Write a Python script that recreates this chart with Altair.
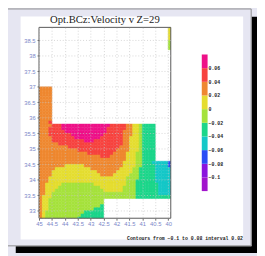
import altair as alt
import pandas as pd

# ---- data ----
# grid columns: 45 -> 40 in 0.125 steps, plus a last sliver 40 -> 39.9
X_EDGES = [45 - 0.125 * k for k in range(41)] + [39.9]
# grid rows: 32.7 -> 39.0 in 0.1 steps
Y_EDGES = [round(32.7 + 0.1 * k, 2) for k in range(64)]
# one run-length string per row, top row (38.9-39.0) first;
# code letter + number of columns (45 -> 39.9); "." = no data
ROWS = [
    ".40 y1", ".40 y1", ".40 y1", ".40 y1", ".40 y1",
    ".40 g1", ".40 g1", ".40 g1",
    ".41", ".41", ".41", ".41", ".41", ".41",
    ".41", ".41", ".41", ".41", ".41", ".41",
    "o4 .37", "o4 .37", "o4 .37", "o4 .37", "o4 .37", "o4 .37",
    "o4 .37", "o4 .37", "o4 .37", "o4 .37", "o4 .37",
    "o3 r1 .37",
    "o4 r3 m15 r5 o2 y2 g1 t4 .5",
    "o3 r4 m14 r6 o2 y2 g1 t4 .5",
    "o3 r5 m13 r5 o3 y2 g1 t4 .5",
    "o3 r7 m10 r6 o3 y2 g1 t4 .5",
    "o4 r7 m8 r7 o2 y3 g1 t4 .5",
    "o4 r10 m3 r9 o2 y3 g1 t4 .5",
    "o6 r20 o2 y3 g1 t4 .5",
    "o9 r16 o3 y3 g1 t4 .5",
    "o12 r12 o4 y3 g1 t4 .5",
    "o15 r8 o4 y3 g2 t4 .5",
    "o19 r3 o5 y3 g2 t4 .5",
    "o27 y3 g2 t4 .5",
    "o26 y4 g2 t3 c5 b1",
    "o8 y6 o12 y4 g2 t4 c4 b1",
    "o5 y11 o9 y4 g2 t5 c5",
    "o4 y14 o6 y5 g2 t5 c5",
    "o4 y15 o4 y5 g3 t5 c5",
    "o3 y24 g4 t5 c5",
    "o3 y24 g3 t6 c5",
    "o2 y5 g10 y10 g3 t7 c4",
    "o2 y4 g13 y7 g4 t7 c4",
    "o2 y3 g15 y6 g4 t7 c4",
    "o2 y2 g26 t7 c4",
    "o1 y3 g26 t11",
    "o1 y2 g17 .21",
    "o1 y2 g17 .21",
    "o1 y2 g16 t1 .21",
    "o1 y2 g14 t3 .21",
    "o1 y1 g12 t6 .21",
    "o1 y1 g11 t7 .21",
    "o1 y1 g10 t8 .21",
]
CODE_VALUE = {"m": 0.07, "r": 0.05, "o": 0.03, "y": 0.01, "g": -0.01,
              "t": -0.03, "c": -0.05, "b": -0.07, "p": -0.09, "v": -0.11}

LEVELS = [-0.1, -0.08, -0.06, -0.04, -0.02, 0.0, 0.02, 0.04, 0.06]
COLORS = ["#a114cc", "#8b14dd", "#2a4cf5", "#14c8c8", "#1cd68a",
          "#a5e23c", "#e5dd30", "#ef8830", "#f7423f", "#ee1188"]
CBAR_LO = [-0.12, -0.1, -0.08, -0.06, -0.04, -0.02, 0.0, 0.02, 0.04, 0.06]
CBAR_VAL = [-0.11, -0.09, -0.07, -0.05, -0.03, -0.01, 0.01, 0.03, 0.05, 0.07]
CBAR_TICKS = [0.06, 0.04, 0.02, 0.0, -0.02, -0.04, -0.06, -0.08, -0.1]
CBAR_LABELS = ["0.06", "0.04", "0.02", "0", "\u22120.02", "\u22120.04",
               "\u22120.06", "\u22120.08", "\u22120.1"]
X_TICKS = [45, 44.5, 44, 43.5, 43, 42.5, 42, 41.5, 41, 40.5, 40]
Y_TICKS = [33, 33.5, 34, 34.5, 35, 35.5, 36, 36.5, 37, 37.5, 38, 38.5]
TITLE = "Opt.BCz:Velocity  v  Z=29"
CAPTION = "Contours from \u22120.1 to 0.08 interval 0.02"

# ---- tables ----
recs = []
nrows = len(ROWS)
ncols = len(X_EDGES) - 1
for i, row in enumerate(ROWS):
    ylo = Y_EDGES[nrows - 1 - i]
    yhi = Y_EDGES[nrows - i]
    j = 0
    for tok in row.split():
        code, n = tok[0], int(tok[1:])
        for _ in range(n):
            if code in CODE_VALUE:
                recs.append({"x": X_EDGES[j], "x2": X_EDGES[j + 1],
                             "y": ylo, "y2": yhi, "v": CODE_VALUE[code]})
            j += 1
    assert j == ncols, (i, row, j)
cells = pd.DataFrame(recs)
cbar = pd.DataFrame({"lo": CBAR_LO, "hi": [a + 0.02 for a in CBAR_LO], "v": CBAR_VAL})
cbar_lab = pd.DataFrame({"t": CBAR_TICKS, "lab": CBAR_LABELS})
one = pd.DataFrame({"title": [TITLE], "caption": [CAPTION]})

W, H = 136, 197
csc = alt.Scale(type="threshold", domain=LEVELS, range=COLORS)
xsc = alt.Scale(domain=[45, 39.9], nice=False, zero=False)
ysc = alt.Scale(domain=[32.76, 38.92], nice=False, zero=False)
cbsc = alt.Scale(domain=[-0.12, 0.08], range=[169, 28], nice=False, zero=False)

lab_color = "#7b87c9"
xaxis = alt.Axis(values=X_TICKS, format=".1~f", labelFont="Liberation Sans",
                 labelFontSize=6, labelColor=lab_color, tickSize=2, tickColor="#666",
                 domain=False, grid=True, gridColor="#c4c4c4", gridDash=[1, 2],
                 gridWidth=0.7, labelPadding=1, title=None, zindex=1,
                 labelFlush=False, labelOverlap=False)
yaxis = alt.Axis(values=Y_TICKS, format=".1~f", labelFont="Liberation Sans",
                 labelFontSize=6, labelColor=lab_color, tickSize=2, tickColor="#666",
                 domain=False, grid=True, gridColor="#c4c4c4", gridDash=[1, 2],
                 gridWidth=0.7, labelPadding=2, title=None, zindex=1,
                 labelFlush=False, labelOverlap=False)

base1 = alt.Chart(one)
shadow_r = base1.mark_rect(color="#000000").encode(
    x=alt.value(219.5), x2=alt.value(226), y=alt.value(-11), y2=alt.value(233))
shadow_b = base1.mark_rect(color="#000000").encode(
    x=alt.value(-24), x2=alt.value(226), y=alt.value(226), y2=alt.value(233))
border = base1.mark_rect(filled=False, stroke="#8a8a8a", strokeWidth=1).encode(
    x=alt.value(-35), x2=alt.value(219), y=alt.value(-19), y2=alt.value(225.5))
panel = base1.mark_rect(color="#ffffff").encode(
    x=alt.value(-19), x2=alt.value(210.7), y=alt.value(-11.3), y2=alt.value(219))

field = alt.Chart(cells).mark_rect(clip=True, strokeWidth=0.5).encode(
    x=alt.X("x:Q", scale=xsc, axis=xaxis),
    x2="x2:Q",
    y=alt.Y("y:Q", scale=ysc, axis=yaxis),
    y2="y2:Q",
    fill=alt.Fill("v:Q", scale=csc, legend=None),
    stroke=alt.Stroke("v:Q", scale=csc, legend=None),
)
frame = base1.mark_rect(filled=False, stroke="#555555", strokeWidth=1).encode(
    x=alt.value(0), x2=alt.value(W), y=alt.value(0), y2=alt.value(H))

cbar_rect = alt.Chart(cbar).mark_rect().encode(
    x=alt.value(168), x2=alt.value(174),
    y=alt.Y("lo:Q", scale=cbsc, axis=None), y2="hi:Q",
    fill=alt.Fill("v:Q", scale=csc, legend=None),
)
cbar_text = alt.Chart(cbar_lab).mark_text(
    align="left", baseline="middle", font="Liberation Mono", fontSize=5,
    fontWeight="bold", color="#222222").encode(
    x=alt.value(175),
    y=alt.Y("t:Q", scale=cbsc, axis=None),
    text="lab:N",
)
title = base1.mark_text(align="center", baseline="alphabetic",
                        font="Liberation Serif", fontSize=11, color="#222222").encode(
    x=alt.value(68), y=alt.value(-4), text="title:N")
caption = base1.mark_text(align="right", baseline="alphabetic",
                          font="Liberation Mono", fontSize=5, fontWeight="bold",
                          color="#222222").encode(
    x=alt.value(210.5), y=alt.value(219), text="caption:N")

chart = alt.layer(
    shadow_r, shadow_b, border, panel, field, frame, cbar_rect, cbar_text, title, caption
).resolve_scale(y="independent").properties(
    width=W, height=H,
    autosize=alt.AutoSizeParams(type="none"),
    padding={"left": 32, "top": 16, "right": 89, "bottom": 35},
    background="#e6e6f2",
).configure_view(strokeWidth=0)

chart.save("out.html", embed_options={"renderer": "svg", "actions": False})
